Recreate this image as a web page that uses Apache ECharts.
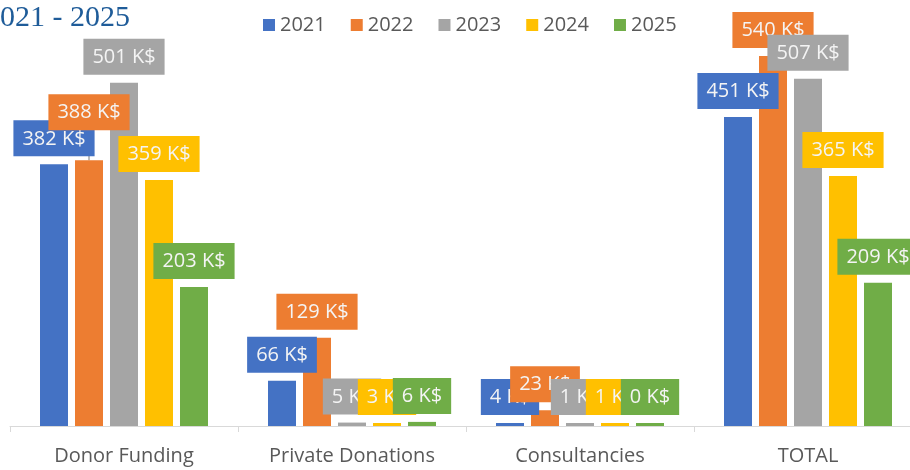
<!DOCTYPE html>
<html>
<head>
<meta charset="utf-8">
<script src="https://cdn.jsdelivr.net/npm/echarts@6/dist/echarts.min.js"></script>
<style>
  html, body { margin: 0; padding: 0; background: #fff; overflow: hidden; }
  /* 原图右侧被裁掉一截, 画布比窗口宽一点 */
  #box { width: 922px; height: 470px; }
</style>
</head>
<body>
<div id="box"></div>
<script>
// 类目 (x 轴)
var categories = ['Donor Funding', 'Private Donations', 'Consultancies', 'TOTAL'];
// 年份 (图例)
var years = ['2021', '2022', '2023', '2024', '2025'];
// 每年数据, 单位 K$
var data2021 = [382, 66, 4, 451];
var data2022 = [388, 129, 23, 540];
var data2023 = [501, 5, 1, 507];
var data2024 = [359, 3, 1, 365];
var data2025 = [203, 6, 0, 209];

var colors = ['#4472C4', '#ED7D31', '#A5A5A5', '#FFC000', '#70AD47'];
var allData = [data2021, data2022, data2023, data2024, data2025];

var labelFont = '"Open Sans", "Noto Sans", sans-serif';

// 生成 series
function makeSeries(name, idx) {
    var values = allData[idx];
    var items = values.map(function (v, i) {
        // 2022 Donor Funding 标签被手动往上挪了, 带引导线
        if (idx === 1 && i === 0) {
            return { value: v, labelLine: { show: true, lineStyle: { color: '#A5A5A5', width: 1.5 } } };
        }
        return v;
    });
    return {
        name: name,
        type: 'bar',
        barWidth: 28,
        barGap: '25%',
        barCategoryGap: '26%',
        barMinHeight: 3,
        itemStyle: { color: colors[idx] },
        label: {
            show: true,
            position: 'top',
            distance: 8,
            formatter: function (p) { return p.value + ' K$'; },
            color: '#F4F4F4',
            fontFamily: labelFont,
            fontSize: 20,
            lineHeight: 23,
            backgroundColor: colors[idx],
            padding: [7, 9, 6, 9]
        },
        labelLayout: function (p) {
            if (idx === 1 && p.dataIndex === 0) return { dy: -22 };
            return {};
        },
        data: items
    };
}

var myChart = echarts.init(document.getElementById('box'));
var option = {
    animation: false,
    color: colors,
    title: {
        text: '2021 - 2025',
        left: -20,
        top: -2,
        textStyle: {
            fontFamily: '"Liberation Serif", serif',
            fontSize: 30,
            fontWeight: 'normal',
            color: '#1F5C99'
        }
    },
    legend: {
        data: years,
        left: 258,
        top: 10,
        itemWidth: 12,
        itemHeight: 12,
        itemGap: 25,
        icon: 'rect',
        textStyle: { color: '#595959', fontSize: 20, fontFamily: labelFont }
    },
    grid: { left: 10, top: 15, right: 0, bottom: 44 },
    xAxis: {
        type: 'category',
        data: categories,
        axisLine: { lineStyle: { color: '#D9D9D9', width: 1 } },
        axisTick: { show: true, length: 6, lineStyle: { color: '#D9D9D9' } },
        axisLabel: { color: '#595959', fontSize: 20, fontFamily: labelFont, margin: 20 }
    },
    yAxis: {
        type: 'value',
        min: 0,
        max: 600,
        show: false,
        splitLine: { show: false }
    },
    series: years.map(makeSeries)
};
myChart.setOption(option);
</script>
</body>
</html>
